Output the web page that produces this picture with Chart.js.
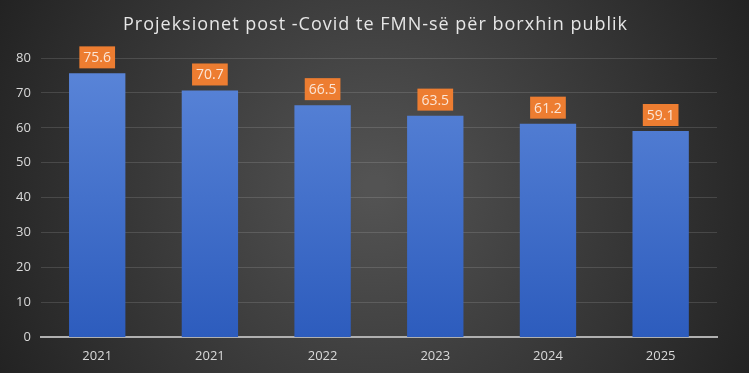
<!DOCTYPE html>
<html>
<head>
<meta charset="utf-8">
<script src="https://cdn.jsdelivr.net/npm/chart.js@4/dist/chart.umd.min.js"></script>
<style>
    html, body { margin: 0; padding: 0; background: #2b2b2b; }
    #wrap { width: 749px; height: 373px; position: relative; }
</style>
</head>
<body>
<div id="wrap"><canvas id="debtChart"></canvas></div>
<script>
// Data
const years = ['2021', '2021', '2022', '2023', '2024', '2025'];
const debtValues = [75.6, 70.7, 66.5, 63.5, 61.2, 59.1];
const yTicks = [0, 10, 20, 30, 40, 50, 60, 70, 80];
const chartTitle = 'Projeksionet post -Covid te FMN-së për borxhin publik';

// Dark radial background like the Office chart style, plus spaced-out title
const backgroundPlugin = {
    id: 'darkBackground',
    beforeDraw(chart) {
        const ctx = chart.ctx;
        const w = chart.width, h = chart.height;
        const g = ctx.createRadialGradient(w / 2, h / 2, 10, w / 2, h / 2, w * 0.6);
        g.addColorStop(0, '#535353');
        g.addColorStop(1, '#1f1f1f');
        ctx.save();
        ctx.fillStyle = g;
        ctx.fillRect(0, 0, w, h);

        ctx.font = '18px "Open Sans", sans-serif';
        ctx.letterSpacing = '1px';
        ctx.fillStyle = '#e6e6e6';
        ctx.textAlign = 'center';
        ctx.textBaseline = 'middle';
        ctx.fillText(chartTitle, w / 2 + 1, 25);
        ctx.restore();
    }
};

// Orange value boxes above each bar
const valueBoxPlugin = {
    id: 'valueBoxes',
    afterDatasetsDraw(chart) {
        const ctx = chart.ctx;
        const meta = chart.getDatasetMeta(0);
        ctx.save();
        ctx.font = '14px "Open Sans", sans-serif';
        ctx.textAlign = 'center';
        ctx.textBaseline = 'middle';
        meta.data.forEach((bar, i) => {
            const text = debtValues[i].toFixed(1);
            const tw = ctx.measureText(text).width;
            const bw = tw + 8, bh = 22;
            const bx = bar.x - bw / 2;
            const by = bar.y - 5 - bh;
            ctx.fillStyle = '#ed7d31';
            ctx.fillRect(bx, by, bw, bh);
            ctx.fillStyle = '#fbe5d6';
            ctx.fillText(text, bar.x, by + bh / 2 + 1);
        });
        ctx.restore();
    }
};

const ctx = document.getElementById('debtChart').getContext('2d');
new Chart(ctx, {
    type: 'bar',
    data: {
        labels: years,
        datasets: [{
            label: 'Borxhi publik',
            data: debtValues,
            backgroundColor: function(context) {
                const area = context.chart.chartArea;
                if (!area) return '#4472c4';
                const g = context.chart.ctx.createLinearGradient(0, area.top, 0, area.bottom);
                g.addColorStop(0, '#5b86d9');
                g.addColorStop(1, '#2d5cbd');
                return g;
            },
            borderWidth: 0,
            categoryPercentage: 1,
            barPercentage: 0.5
        }]
    },
    options: {
        responsive: true,
        maintainAspectRatio: false,
        animation: false,
        layout: { padding: { left: 6, right: 32, top: 58, bottom: 6 } },
        plugins: {
            legend: { display: false },
            tooltip: { enabled: false },
            title: { display: false }
        },
        scales: {
            x: {
                grid: { display: false },
                border: { color: '#b0b0b0', width: 2 },
                ticks: { color: '#d9d9d9', font: { family: '"Open Sans", sans-serif', size: 13 }, padding: 3 }
            },
            y: {
                min: 0,
                max: 80,
                afterBuildTicks(axis) {
                    axis.ticks = yTicks.map(v => ({ value: v }));
                },
                grid: { color: 'rgba(255,255,255,0.13)', drawTicks: false },
                border: { display: false },
                ticks: { color: '#d9d9d9', font: { family: '"Open Sans", sans-serif', size: 13 }, padding: 10 }
            }
        }
    },
    plugins: [backgroundPlugin, valueBoxPlugin]
});
</script>
</body>
</html>
